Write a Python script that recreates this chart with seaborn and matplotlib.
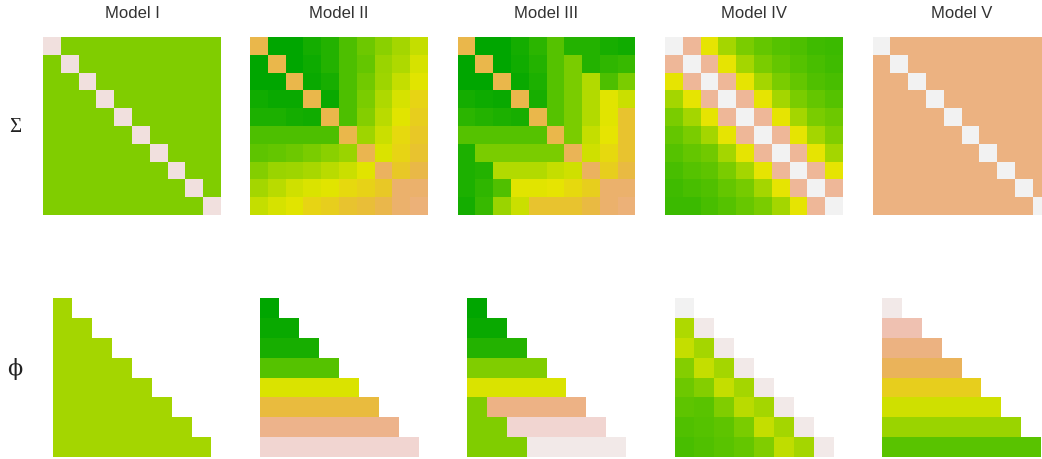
import numpy as np
import seaborn as sns
import matplotlib.pyplot as plt
from matplotlib.colors import ListedColormap, hsv_to_rgb

# column titles and row labels
models = ["Model I", "Model II", "Model III", "Model IV", "Model V"]
row_labels = ["\u03a3", "\u03d5"]

# Sigma matrices (10x10), values on a 0..1 colour scale
sigma_1 = [[0.96 if i == j else 0.31 for j in range(10)] for i in range(10)]

sigma_2 = [
    [0.66, 0.00, 0.00, 0.06, 0.10, 0.20, 0.27, 0.33, 0.38, 0.44],
    [0.00, 0.66, 0.00, 0.04, 0.10, 0.20, 0.25, 0.36, 0.40, 0.47],
    [0.00, 0.00, 0.66, 0.03, 0.07, 0.20, 0.28, 0.37, 0.44, 0.49],
    [0.05, 0.03, 0.03, 0.66, 0.03, 0.20, 0.30, 0.40, 0.47, 0.54],
    [0.08, 0.08, 0.06, 0.05, 0.66, 0.20, 0.32, 0.42, 0.49, 0.56],
    [0.20, 0.20, 0.20, 0.20, 0.20, 0.66, 0.37, 0.45, 0.53, 0.58],
    [0.24, 0.25, 0.27, 0.30, 0.33, 0.36, 0.67, 0.48, 0.54, 0.60],
    [0.32, 0.36, 0.37, 0.39, 0.42, 0.45, 0.49, 0.70, 0.58, 0.65],
    [0.38, 0.42, 0.46, 0.48, 0.49, 0.53, 0.55, 0.58, 0.73, 0.73],
    [0.44, 0.47, 0.49, 0.54, 0.56, 0.60, 0.62, 0.66, 0.73, 0.75],
]

sigma_3 = [
    [0.66, 0.00, 0.00, 0.06, 0.12, 0.22, 0.10, 0.10, 0.07, 0.05],
    [0.00, 0.66, 0.00, 0.05, 0.10, 0.22, 0.30, 0.10, 0.13, 0.15],
    [0.00, 0.00, 0.66, 0.03, 0.08, 0.22, 0.30, 0.41, 0.20, 0.30],
    [0.06, 0.04, 0.03, 0.66, 0.07, 0.22, 0.30, 0.41, 0.49, 0.45],
    [0.12, 0.10, 0.08, 0.07, 0.66, 0.22, 0.30, 0.41, 0.49, 0.60],
    [0.22, 0.22, 0.22, 0.22, 0.22, 0.66, 0.30, 0.44, 0.50, 0.60],
    [0.08, 0.30, 0.30, 0.30, 0.30, 0.30, 0.68, 0.46, 0.53, 0.60],
    [0.08, 0.10, 0.41, 0.41, 0.41, 0.44, 0.46, 0.70, 0.56, 0.64],
    [0.08, 0.13, 0.21, 0.49, 0.49, 0.50, 0.53, 0.56, 0.73, 0.73],
    [0.06, 0.15, 0.36, 0.45, 0.60, 0.60, 0.60, 0.64, 0.73, 0.75],
]

sigma_4 = [
    [1.00, 0.82, 0.50, 0.38, 0.30, 0.25, 0.22, 0.20, 0.17, 0.16],
    [0.82, 1.00, 0.82, 0.50, 0.38, 0.30, 0.25, 0.22, 0.19, 0.17],
    [0.50, 0.82, 1.00, 0.82, 0.50, 0.38, 0.30, 0.25, 0.21, 0.19],
    [0.38, 0.50, 0.82, 1.00, 0.82, 0.50, 0.38, 0.30, 0.25, 0.22],
    [0.30, 0.38, 0.50, 0.82, 1.00, 0.82, 0.50, 0.38, 0.30, 0.27],
    [0.25, 0.30, 0.38, 0.50, 0.82, 1.00, 0.82, 0.50, 0.38, 0.31],
    [0.22, 0.25, 0.28, 0.38, 0.50, 0.82, 1.00, 0.82, 0.50, 0.38],
    [0.19, 0.22, 0.24, 0.30, 0.38, 0.50, 0.82, 1.00, 0.82, 0.50],
    [0.17, 0.19, 0.21, 0.25, 0.29, 0.38, 0.50, 0.82, 1.00, 0.82],
    [0.16, 0.16, 0.19, 0.22, 0.26, 0.30, 0.38, 0.50, 0.82, 1.00],
]

sigma_5 = [[1.00 if i == j else 0.77 for j in range(10)] for i in range(10)]

# phi matrices (8x8, lower triangle only)
phi_1 = [[0.38] * (i + 1) for i in range(8)]
phi_2_rows = [0.00, 0.03, 0.07, 0.22, 0.48, 0.63, 0.79, 0.93]
phi_2 = [[v] * (i + 1) for i, v in enumerate(phi_2_rows)]
phi_3 = [
    [0.00],
    [0.03, 0.03],
    [0.10, 0.10, 0.10],
    [0.31, 0.31, 0.31, 0.31],
    [0.48, 0.48, 0.48, 0.48, 0.48],
    [0.31, 0.78, 0.78, 0.78, 0.78, 0.78],
    [0.31, 0.31, 0.93, 0.93, 0.93, 0.93, 0.93],
    [0.31, 0.31, 0.31, 0.98, 0.98, 0.98, 0.98, 0.98],
]
phi_4 = [
    [1.00],
    [0.40, 0.98],
    [0.44, 0.38, 0.98],
    [0.32, 0.44, 0.38, 0.98],
    [0.27, 0.32, 0.44, 0.38, 0.98],
    [0.24, 0.23, 0.31, 0.42, 0.38, 0.98],
    [0.21, 0.22, 0.24, 0.30, 0.44, 0.38, 0.98],
    [0.19, 0.21, 0.23, 0.25, 0.31, 0.43, 0.38, 0.98],
]
phi_5_rows = [0.98, 0.87, 0.77, 0.69, 0.56, 0.46, 0.36, 0.23]
phi_5 = [[v] * (i + 1) for i, v in enumerate(phi_5_rows)]

sigmas = [sigma_1, sigma_2, sigma_3, sigma_4, sigma_5]
phis = [phi_1, phi_2, phi_3, phi_4, phi_5]


def to_square(tri, n=8):
    m = np.full((n, n), np.nan)
    for i, row in enumerate(tri):
        m[i, :len(row)] = row
    return m


# terrain.colors-like palette (green -> yellow -> tan -> light grey)
k = 128
h = np.concatenate([np.linspace(4 / 12, 2 / 12, k), np.linspace(2 / 12, 0, k + 1)[1:]])
s = np.concatenate([np.ones(k), np.linspace(1, 0, k + 1)[1:]])
v = np.concatenate([np.linspace(0.65, 0.9, k), np.linspace(0.9, 0.95, k + 1)[1:]])
terrain = ListedColormap(hsv_to_rgb(np.column_stack([h, s, v])))

sns.set_style("white")

W, H = 1042, 460
fig = plt.figure(figsize=(W / 100, H / 100), dpi=100)

centers = [132, 339, 546.5, 754, 961.5]
top_size, bot_size = 178, 159
top_y, bot_y = 38, 299

for c, name, sig, phi in zip(centers, models, sigmas, phis):
    ax = fig.add_axes([(c - top_size / 2) / W, 1 - (top_y + top_size) / H, top_size / W, top_size / H])
    sns.heatmap(np.array(sig), ax=ax, cmap=terrain, vmin=0, vmax=1, cbar=False,
                xticklabels=False, yticklabels=False, square=True)
    ax.text(0.5, 1 + 25 / top_size, name, transform=ax.transAxes, ha="center", va="center",
            fontsize=12, color="#333333", family=["Liberation Sans", "DejaVu Sans"])

    ax2 = fig.add_axes([(c - bot_size / 2) / W, 1 - (bot_y + bot_size) / H, bot_size / W, bot_size / H])
    sns.heatmap(to_square(phi), ax=ax2, cmap=terrain, vmin=0, vmax=1, cbar=False,
                xticklabels=False, yticklabels=False, square=True)

fig.text(15 / W, 1 - 128 / H, row_labels[0], ha="center", va="center", fontsize=15,
         color="#222222", family=["Liberation Serif", "DejaVu Serif"])
fig.text(15 / W, 1 - 369 / H, row_labels[1], ha="center", va="center", fontsize=16,
         color="#222222", family=["DejaVu Serif", "Liberation Serif"])

fig.savefig("out.png", dpi=100)
